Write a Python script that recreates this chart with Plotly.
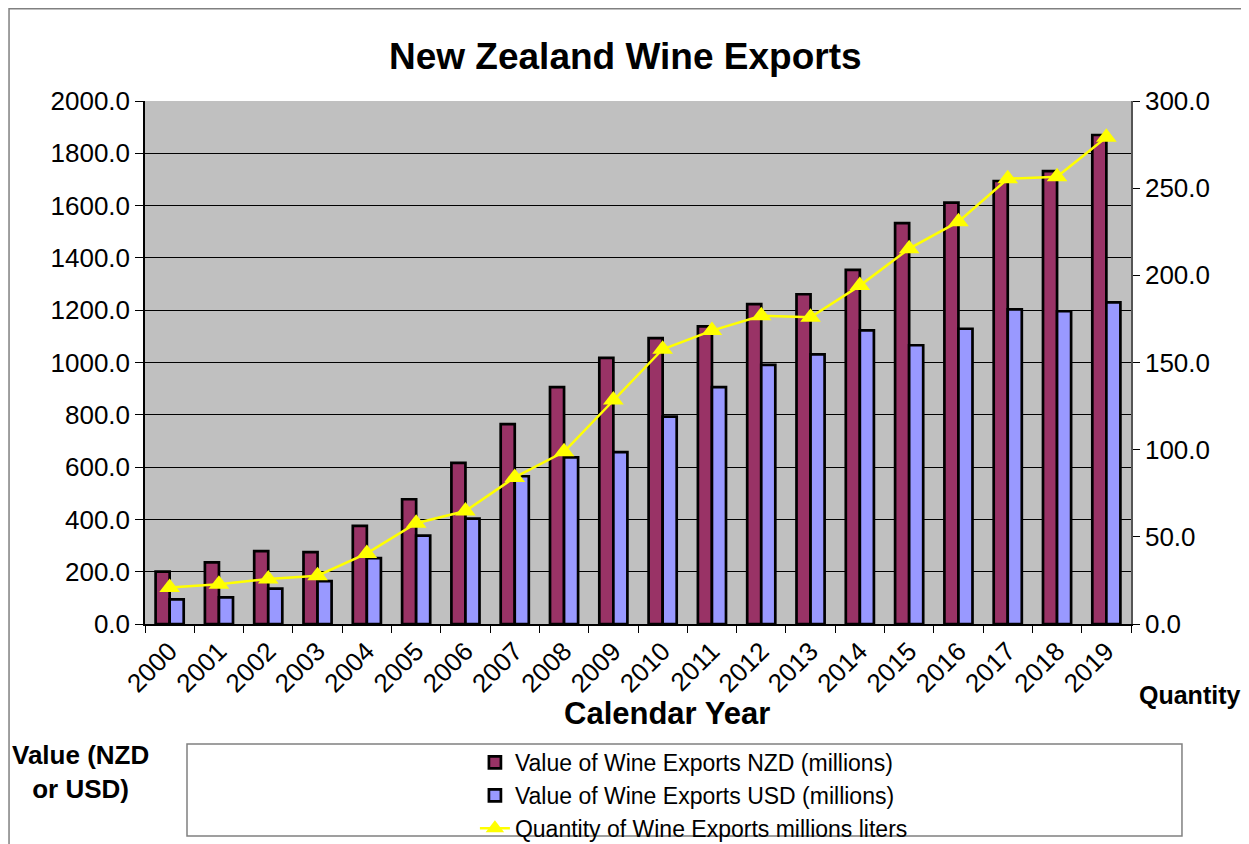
import plotly.graph_objects as go

years = [str(y) for y in range(2000, 2020)]
nzd = [200, 236, 279, 275, 375, 477, 616, 764, 906, 1018, 1093, 1138, 1223, 1261, 1354, 1533, 1611, 1694, 1732, 1870]
usd = [94, 102, 135, 164, 252, 338, 403, 565, 637, 657, 793, 906, 991, 1031, 1123, 1066, 1129, 1203, 1196, 1230]
qty = [21.0, 22.8, 25.8, 27.7, 40.5, 57.8, 64.8, 84.1, 98.8, 128.5, 157.6, 168.3, 176.8, 175.9, 194.1, 215.3, 230.8, 255.4, 256.6, 279.2]

left_ticks = [0, 200, 400, 600, 800, 1000, 1200, 1400, 1600, 1800, 2000]
right_ticks = [0, 50, 100, 150, 200, 250, 300]

FONT = "Liberation Sans, Arial, sans-serif"

fig = go.Figure()
fig.add_trace(go.Bar(x=years, y=nzd, name="Value of Wine Exports NZD (millions)",
                     marker=dict(color="#993366", line=dict(color="black", width=2.7))))
fig.add_trace(go.Bar(x=years, y=usd, name="Value of Wine Exports USD (millions)",
                     marker=dict(color="#9999FF", line=dict(color="black", width=2.7))))
fig.add_trace(go.Scatter(x=years, y=qty, name="Quantity of Wine Exports millions liters",
                         yaxis="y2", mode="lines+markers",
                         line=dict(color="#FFFF00", width=2.5),
                         marker=dict(symbol="triangle-up", size=18, color="#FFFF00")))

fig.update_layout(
    width=1241, height=836,
    margin=dict(l=137, r=118, t=93, b=220, autoexpand=False),
    paper_bgcolor="white", plot_bgcolor="#C0C0C0",
    barmode="group", bargap=0.43, bargroupgap=0,
    font=dict(family=FONT, size=26, color="black"),
    showlegend=True,
    legend=dict(x=0.3346, y=-0.2237, xanchor="left", yanchor="top",
                bgcolor="rgba(0,0,0,0)", borderwidth=0,
                font=dict(size=23, family=FONT), traceorder="normal",
                itemwidth=30),
    xaxis=dict(type="category", tickangle=-45, ticks="outside", tickson="boundaries",
               ticklen=7, tickcolor="black", showline=True, linecolor="black", linewidth=1.5,
               tickfont=dict(size=26), showgrid=False, range=[-0.5, 19.5], automargin=False),
    yaxis=dict(range=[0, 2000], tickvals=left_ticks,
               ticktext=[f"{v:.1f}" for v in left_ticks],
               ticks="outside", ticklen=8, tickcolor="black",
               showline=True, linecolor="black", linewidth=1.5,
               showgrid=True, gridcolor="black", gridwidth=1, zeroline=False,
               tickfont=dict(size=26), automargin=False),
    yaxis2=dict(range=[0, 300], tickvals=right_ticks,
                ticktext=[f"{v:.1f}" for v in right_ticks],
                overlaying="y", side="right", ticks="outside", ticklen=7, tickcolor="black",
                showline=True, linecolor="#555555", linewidth=1.5, showgrid=False,
                zeroline=False, tickfont=dict(size=26), automargin=False),
)

# frame and legend box
fig.add_shape(type="rect", xref="paper", yref="paper", x0=-0.1379, x1=1.2, y0=-0.6, y1=1.1763,
              line=dict(color="#808080", width=1.5), layer="below")
fig.add_shape(type="rect", xref="paper", yref="paper", x0=0.0426, x1=1.0517, y0=-0.4054, y1=-0.2294,
              line=dict(color="#808080", width=1.5), layer="below")

ann = dict(xref="paper", yref="paper", showarrow=False, xanchor="center", yanchor="middle")
fig.add_annotation(text="<b>New Zealand Wine Exports</b>", x=0.4878, y=1.086,
                   font=dict(size=37), **ann)
fig.add_annotation(text="<b>Calendar Year</b>", x=0.5294, y=-0.1702,
                   font=dict(size=31), **ann)
fig.add_annotation(text="<b>Quantity</b>", x=1.0598, y=-0.1358,
                   font=dict(size=25), **ann)
fig.add_annotation(text="<b>Value (NZD<br>or USD)</b>", x=-0.0659, y=-0.283,
                   font=dict(size=26), align="center", **ann)

fig.write_html("out.html")
